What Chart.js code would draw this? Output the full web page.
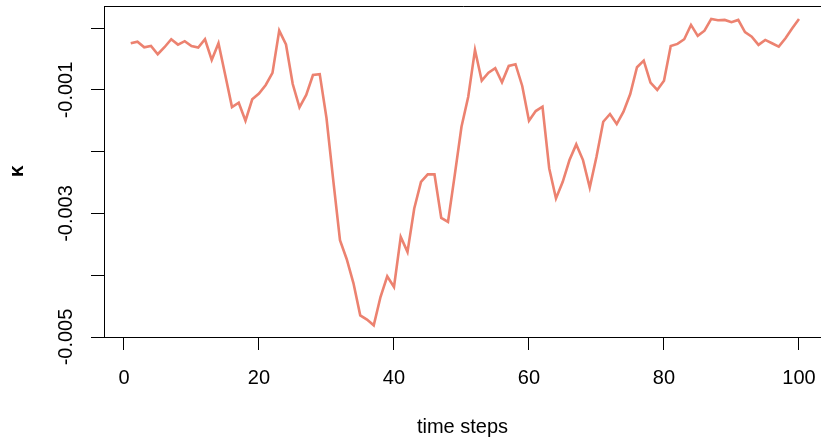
<!DOCTYPE html>
<html lang="en">
<head>
    <meta charset="UTF-8">
    <title>kappa over time steps</title>
    <script src="https://cdn.jsdelivr.net/npm/chart.js"></script>
    <style>
        html, body { margin: 0; padding: 0; background: #fff; overflow: hidden; }
        canvas { display: block; }
    </style>
</head>
<body>
    <canvas id="kappaChart" width="821" height="441"></canvas>

    <script>
        // time steps (x axis)
        const steps = [
            1, 2, 3, 4, 5, 6, 7, 8, 9, 10, 11, 12, 13, 14, 15, 16, 17, 18, 19, 20,
            21, 22, 23, 24, 25, 26, 27, 28, 29, 30, 31, 32, 33, 34, 35, 36, 37, 38, 39, 40,
            41, 42, 43, 44, 45, 46, 47, 48, 49, 50, 51, 52, 53, 54, 55, 56, 57, 58, 59, 60,
            61, 62, 63, 64, 65, 66, 67, 68, 69, 70, 71, 72, 73, 74, 75, 76, 77, 78, 79, 80,
            81, 82, 83, 84, 85, 86, 87, 88, 89, 90, 91, 92, 93, 94, 95, 96, 97, 98, 99, 100
        ];

        // kappa values
        const kappa = [
            -0.000243, -0.000217, -0.000308, -0.000287, -0.000421, -0.000308, -0.000178, -0.000265, -0.000210, -0.000287,
            -0.000314, -0.000178, -0.000514, -0.000243, -0.000757, -0.001276, -0.001206, -0.001498, -0.001151, -0.001057,
            -0.000919, -0.000724, -0.000038, -0.000262, -0.000903, -0.001281, -0.001081, -0.000757, -0.000744, -0.001454,
            -0.002459, -0.003432, -0.003741, -0.004130, -0.004649, -0.004718, -0.004811, -0.004352, -0.004016, -0.004190,
            -0.003379, -0.003622, -0.002918, -0.002487, -0.002367, -0.002367, -0.003071, -0.003136, -0.002378, -0.001595,
            -0.001109, -0.000351, -0.000849, -0.000720, -0.000648, -0.000875, -0.000611, -0.000583, -0.000935, -0.001498,
            -0.001341, -0.001271, -0.002270, -0.002756, -0.002487, -0.002135, -0.001881, -0.002135, -0.002581, -0.002082,
            -0.001514, -0.001389, -0.001551, -0.001352, -0.001065, -0.000632, -0.000525, -0.000882, -0.001000, -0.000849,
            -0.000287, -0.000254, -0.000178, 0.000054, -0.000124, -0.000040, 0.000151, 0.000130, 0.000135, 0.000098,
            0.000135, -0.000064, -0.000136, -0.000270, -0.000189, -0.000243, -0.000298, -0.000162, 0.000000, 0.000151
        ];

        // axis ticks and their labels (R leaves every other y label out)
        const xTicks = [0, 20, 40, 60, 80, 100];
        const yTicks = [0, -0.001, -0.002, -0.003, -0.004, -0.005];
        const yTickLabels = ['', '-0.001', '', '-0.003', '', '-0.005'];

        const FONT = 'Liberation Sans, Arial, Helvetica, sans-serif';

        // draws the plot box and the rotated y tick labels, base R style
        const rStyle = {
            id: 'rStyle',
            afterDraw(chart) {
                const { ctx, chartArea } = chart;
                const y = chart.scales.y;
                ctx.save();
                ctx.strokeStyle = '#000';
                ctx.lineWidth = 1;
                ctx.beginPath();
                ctx.moveTo(chartArea.left + 0.5, chartArea.bottom + 0.5);
                ctx.lineTo(chartArea.left + 0.5, chartArea.top + 0.5);
                ctx.lineTo(chartArea.right + 2, chartArea.top + 0.5);
                ctx.stroke();

                ctx.fillStyle = '#000';
                ctx.font = '20px ' + FONT;
                ctx.textAlign = 'center';
                ctx.textBaseline = 'middle';
                yTicks.forEach((v, i) => {
                    if (!yTickLabels[i]) return;
                    ctx.save();
                    ctx.translate(66, y.getPixelForValue(v));
                    ctx.rotate(-Math.PI / 2);
                    ctx.fillText(yTickLabels[i], 0, 0);
                    ctx.restore();
                });
                ctx.restore();
            }
        };

        const ctx = document.getElementById('kappaChart').getContext('2d');

        new Chart(ctx, {
            type: 'line',
            data: {
                datasets: [{
                    data: steps.map((t, i) => ({ x: t, y: kappa[i] })),
                    borderColor: '#ec8270',
                    borderWidth: 2.6,
                    pointRadius: 0,
                    tension: 0,
                    fill: false
                }]
            },
            options: {
                responsive: false,
                animation: false,
                devicePixelRatio: 1,
                layout: { padding: { top: 6, left: 0, right: 0, bottom: 0 } },
                plugins: {
                    legend: { display: false },
                    tooltip: { enabled: false }
                },
                scales: {
                    x: {
                        type: 'linear',
                        min: -2.96,
                        max: 103.26,
                        afterBuildTicks: (scale) => { scale.ticks = xTicks.map(v => ({ value: v })); },
                        afterFit: (scale) => {
                            scale.height = 104;
                            scale.paddingLeft = 0;
                            scale.paddingRight = 0;
                        },
                        grid: {
                            drawOnChartArea: false,
                            drawTicks: true,
                            tickLength: 13,
                            color: '#000'
                        },
                        border: { display: true, color: '#000', width: 1 },
                        ticks: {
                            color: '#000',
                            font: { family: FONT, size: 20 },
                            padding: 16,
                            maxRotation: 0,
                            autoSkip: false
                        },
                        title: {
                            display: true,
                            text: 'time steps',
                            color: '#000',
                            font: { family: FONT, size: 20 },
                            padding: { top: 0, bottom: 2 }
                        }
                    },
                    y: {
                        type: 'linear',
                        min: -0.005,
                        max: 0.00036,
                        afterBuildTicks: (scale) => { scale.ticks = yTicks.map(v => ({ value: v })); },
                        afterFit: (scale) => { scale.width = 104; },
                        grid: {
                            drawOnChartArea: false,
                            drawTicks: true,
                            tickLength: 13,
                            color: '#000'
                        },
                        border: { display: true, color: '#000', width: 1 },
                        ticks: { display: false },
                        title: {
                            display: true,
                            text: 'κ',
                            color: '#000',
                            font: { family: FONT, size: 21, weight: 'bold' },
                            padding: { top: 5, bottom: 0 }
                        }
                    }
                }
            },
            plugins: [rStyle]
        });
    </script>
</body>
</html>
